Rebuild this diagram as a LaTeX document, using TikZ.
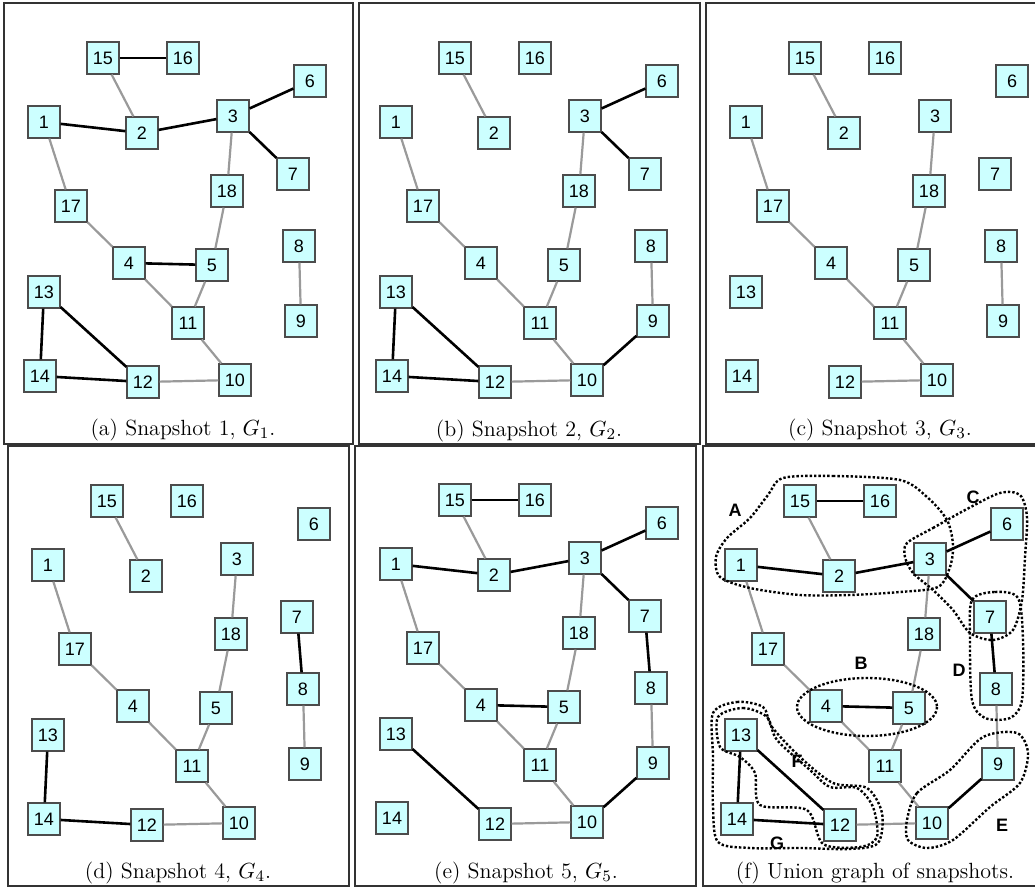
\documentclass[tikz,border=0pt]{standalone}
\usepackage{fontspec}
\setsansfont{Liberation Sans}
\usetikzlibrary{positioning}
\definecolor{NodeCyan}{HTML}{CCFFFF}
\definecolor{EdgeGray}{HTML}{9A9A9A}

% the 18 vertices of one snapshot, #1 = name prefix
\newcommand{\snapnodes}[1]{%
  \foreach \n/\x/\y in {15/99/55,16/179/55,6/306/78,1/40/119,2/138/130,3/229/113,
      7/289/171,18/223/188,17/67/203,8/295/243,4/125/260,5/208/262,13/40/289,
      11/184/320,9/297/318,14/36/373,12/139/379,10/231/377}
    \node[vtx] (#1\n) at (\x,\y) {\n};}
% edges shared by every snapshot
\newcommand{\snapbase}[1]{%
  \foreach \u/\v in {15/2,1/17,17/4,3/18,18/5,4/11,5/11,11/10,12/10,8/9}
    \draw[cedge] (#1\u) -- (#1\v);}

\begin{document}
\begin{tikzpicture}[x=0.5pt,y=-0.5pt,
  vtx/.style={draw=black!70,fill=NodeCyan,line width=0.6pt,minimum size=16pt,inner sep=0pt,font=\sffamily\fontsize{9}{10}\selectfont},
  panel/.style={draw=black!80,line width=1pt},
  sedge/.style={draw=black,line width=1.3pt},
  cedge/.style={draw=EdgeGray,line width=1.1pt},
  region/.style={draw=black,densely dotted,line width=1.2pt},
  rlabel/.style={font=\sffamily\bfseries\fontsize{9}{10}\selectfont},
  captext/.style={font=\fontsize{11}{13}\selectfont}
]
\useasboundingbox (0,0) rectangle (1035,888);
\clip (0,0) rectangle (1035,888);

% panel frames
\draw[panel] (4,3) rectangle (353,444);
\draw[panel] (359,3) rectangle (700,444);
\draw[panel] (706,3) rectangle (1045,444);
\draw[panel] (8,446) rectangle (349,886);
\draw[panel] (355,446) rectangle (696,886);
\draw[panel] (703,446) rectangle (1045,886);

% (a)
\begin{scope}[shift={(4,3)}]
\snapnodes{a}
\end{scope}
\snapbase{a}
\foreach \u/\v in {15/16,1/2,2/3,3/6,3/7,4/5,13/14,13/12,14/12}
  \draw[sedge] (a\u) -- (a\v);
\node[captext] (capa) at (183,430) {(a) Snapshot 1, $G_1$.};

% (b)
\begin{scope}[shift={(356,3)}]
\snapnodes{b}
\end{scope}
\snapbase{b}
\foreach \u/\v in {3/6,3/7,13/14,13/12,14/12,10/9}
  \draw[sedge] (b\u) -- (b\v);
\node[captext] (capb) at (529,431) {(b) Snapshot 2, $G_2$.};

% (c)
\begin{scope}[shift={(706,3)}]
\snapnodes{c}
\end{scope}
\snapbase{c}
\node[captext] (capc) at (880,430) {(c) Snapshot 3, $G_3$.};

% (d)
\begin{scope}[shift={(8,446)}]
\snapnodes{d}
\end{scope}
\snapbase{d}
\foreach \u/\v in {7/8,13/14,14/12}
  \draw[sedge] (d\u) -- (d\v);
\node[captext] (capd) at (178,873) {(d) Snapshot 4, $G_4$.};

% (e)
\begin{scope}[shift={(356,445)}]
\snapnodes{e}
\end{scope}
\snapbase{e}
\foreach \u/\v in {15/16,1/2,2/3,3/6,3/7,7/8,4/5,9/10,13/12}
  \draw[sedge] (e\u) -- (e\v);
\node[captext] (cape) at (526,873) {(e) Snapshot 5, $G_5$.};

% (f) union graph
\begin{scope}[shift={(701,446)}]
\snapnodes{f}
\end{scope}
\snapbase{f}
\foreach \u/\v in {15/16,1/2,2/3,3/6,3/7,7/8,4/5,9/10,13/14,13/12,14/12}
  \draw[sedge] (f\u) -- (f\v);
\node[captext] (capf) at (875,873) {(f) Union graph of snapshots.};

% groups
\draw[region] plot[smooth cycle] coordinates {(783,478) (833,476) (900,480) (927,497) (947,520)
  (953,545) (950,567) (938,587) (900,592) (850,595) (800,595) (750,588) (720,577) (716,557)
  (727,538) (750,518) (768,495)};
\draw[region] (867,707) ellipse (70 and 29);
\draw[region] plot[smooth cycle] coordinates {(907,543) (933,528) (967,509) (1000,493) (1020,495)
  (1027,517) (1025,557) (1022,600) (1013,630) (993,640) (970,633) (953,610) (933,590) (913,573)
  (905,557)};
\draw[region] plot[smooth cycle] coordinates {(972,600) (995,592) (1018,598) (1023,640)
  (1022,700) (1010,718) (985,718) (972,700) (970,640)};
\draw[region] plot[smooth cycle] coordinates {(907,820) (917,793) (950,770) (983,737) (1017,733)
  (1028,753) (1020,783) (990,807) (953,840) (927,848) (908,840)};
\draw[region] plot[smooth cycle] coordinates {(718,717) (743,708) (767,717) (777,740) (810,770)
  (830,787) (857,788) (873,807) (877,837) (860,847) (823,844) (807,810) (760,805) (755,773)
  (740,757) (720,747)};
\draw[region] plot[smooth cycle] coordinates {(713,713) (737,702) (763,707) (772,727) (800,757)
  (833,783) (867,788) (882,813) (878,843) (850,849) (800,848) (750,848) (718,842) (713,807)
  (713,757)};
\node[rlabel] (gA) at (735,510) {A};
\node[rlabel] (gB) at (861,663) {B};
\node[rlabel] (gC) at (973,497) {C};
\node[rlabel] (gD) at (959,670) {D};
\node[rlabel] (gE) at (1002,825) {E};
\node[rlabel] (gF) at (797,761) {F};
\node[rlabel] (gG) at (777,843) {G};
\end{tikzpicture}
\end{document}
